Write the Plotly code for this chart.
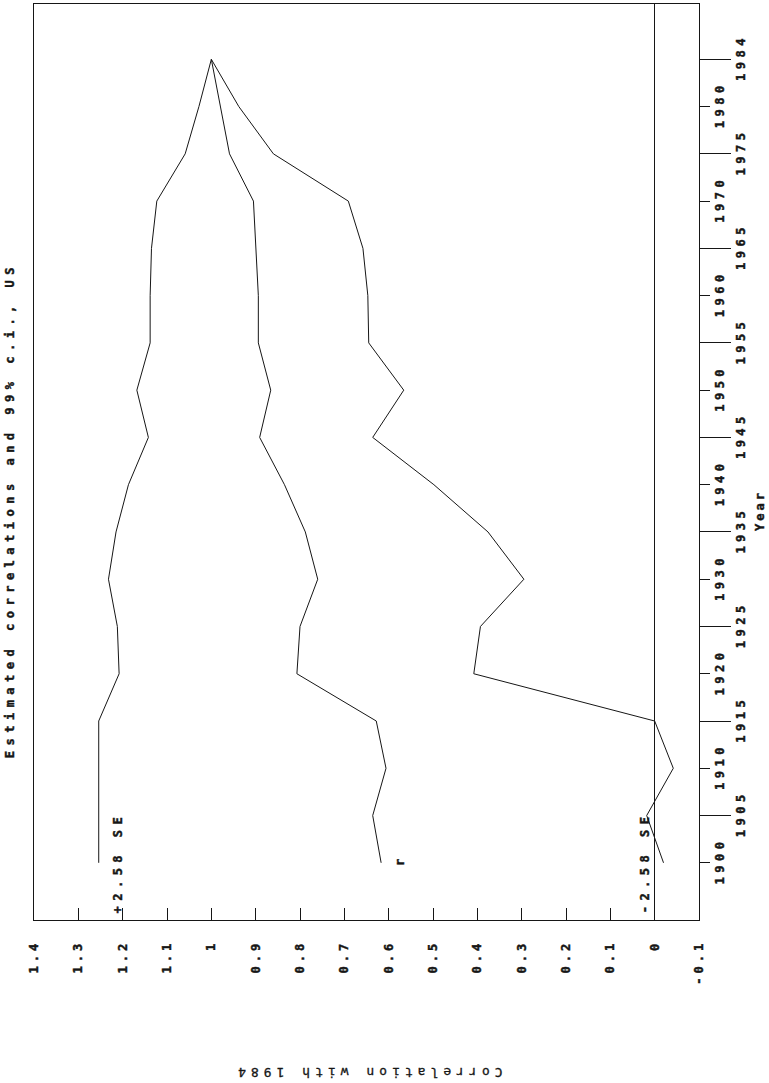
import plotly.graph_objects as go

# ---- data ----
years = [1900, 1905, 1910, 1915, 1920, 1925, 1930, 1935, 1940,
         1945, 1950, 1955, 1960, 1965, 1970, 1975, 1980, 1984]
upper = [1.254, 1.254, 1.254, 1.254, 1.208, 1.212, 1.232, 1.215, 1.187,
         1.142, 1.168, 1.138, 1.138, 1.135, 1.123, 1.059, 1.028, 1.000]
r_vals = [0.617, 0.636, 0.606, 0.628, 0.807, 0.800, 0.760, 0.788, 0.835,
          0.891, 0.866, 0.894, 0.894, 0.900, 0.905, 0.959, 0.979, 1.000]
lower = [-0.020, 0.018, -0.042, 0.000, 0.408, 0.393, 0.295, 0.376, 0.498,
         0.636, 0.566, 0.645, 0.647, 0.658, 0.691, 0.860, 0.938, 1.000]

corr_ticks = [1.4, 1.3, 1.2, 1.1, 1.0, 0.9, 0.8, 0.7, 0.6, 0.5, 0.4, 0.3, 0.2, 0.1, 0.0, -0.1]
corr_ticktext = ["1.4", "1.3", "1.2", "1.1", "1", "0.9", "0.8", "0.7", "0.6",
                 "0.5", "0.4", "0.3", "0.2", "0.1", "0", "-0.1"]

series_labels = ["+2.58 SE", "r", "-2.58 SE"]
title_text = "Estimated correlations and 99% c.i., US"
xlabel_text = "Correlation with 1984"
ylabel_text = "Year"

# year axis is evenly spaced by observation (1980 -> 1984 takes one step)
year_idx = list(range(len(years)))
short_idx = [i for i, y in zip(year_idx, years) if y % 10 == 0]
short_txt = [str(years[i]) for i in short_idx]
long_idx = [i for i, y in zip(year_idx, years) if y % 10 != 0]
long_txt = [str(years[i]) for i in long_idx]

INK = "#161616"
FONT = "DejaVu Sans Mono"

fig = go.Figure()
for vals in (upper, r_vals, lower):
    fig.add_trace(go.Scatter(x=vals, y=year_idx, mode="lines",
                             line=dict(color=INK, width=1),
                             showlegend=False, hoverinfo="skip"))
# invisible trace so the second (long-tick) year axis is drawn
fig.add_trace(go.Scatter(x=[r_vals[0]], y=[year_idx[0]], yaxis="y2", mode="markers",
                         marker=dict(opacity=0), showlegend=False, hoverinfo="skip"))

L, R, T, B = 34, 699, 4, 920
W, H = 769, 1083
pw, ph = R - L, B - T


def px(xp):
    return (xp - L) / pw


def py(yp):
    return (B - yp) / ph


yr = [-1.21, 18.17]

fig.update_layout(
    width=W, height=H,
    margin=dict(l=L, r=W - R, t=T, b=H - B),
    paper_bgcolor="white", plot_bgcolor="white",
    showlegend=False,
    font=dict(family=FONT, size=12, color=INK),
    xaxis=dict(range=[1.4, -0.1], tickmode="array", tickvals=corr_ticks,
               ticktext=corr_ticktext, ticks="inside", ticklen=12, tickwidth=1,
               tickcolor=INK, showline=True, linecolor=INK, linewidth=1, mirror=True,
               showgrid=False, zeroline=True, zerolinecolor=INK, zerolinewidth=1,
               tickangle=-90, ticklabelstandoff=14,
               tickfont=dict(family=FONT, size=12, weight="bold", color=INK)),
    yaxis=dict(range=yr, side="right", tickmode="array", tickvals=short_idx,
               ticktext=short_txt, ticks="outside", ticklen=10, tickwidth=1,
               tickcolor=INK, showline=True, linecolor=INK, linewidth=1, mirror=True,
               showgrid=False, zeroline=False, tickangle=-90,
               tickfont=dict(family=FONT, size=12, weight="bold", color=INK)),
    yaxis2=dict(range=yr, overlaying="y", side="right", tickmode="array",
                tickvals=long_idx, ticktext=long_txt, ticks="outside", ticklen=31,
                tickwidth=1, tickcolor=INK, showline=False, showgrid=False,
                zeroline=False, tickangle=-90,
                tickfont=dict(family=FONT, size=12, weight="bold", color=INK)),
)

ann = [
    dict(text=title_text, xref="paper", yref="paper", x=px(10), y=py(510),
         textangle=-90, showarrow=False, xanchor="center", yanchor="middle",
         font=dict(family=FONT, size=12, weight="bold", color=INK)),
    dict(text=ylabel_text, xref="paper", yref="paper", x=px(760), y=py(511),
         textangle=-90, showarrow=False, xanchor="center", yanchor="middle",
         font=dict(family=FONT, size=12, weight="bold", color=INK)),
    dict(text=xlabel_text, xref="paper", yref="paper", x=px(368), y=py(1073),
         textangle=180, showarrow=False, xanchor="center", yanchor="middle",
         font=dict(family=FONT, size=13, color=INK)),
]
for vals, lab, shift in zip((upper, r_vals, lower), series_labels, (19, 19, -19)):
    ann.append(dict(text=lab, xref="x", yref="y", x=vals[0], y=year_idx[0],
                    xshift=shift, textangle=-90, showarrow=False,
                    xanchor="center", yanchor="middle",
                    font=dict(family=FONT, size=12, weight="bold", color=INK)))
fig.update_layout(annotations=ann)

post = """
var gd = document.getElementById('{plot_id}');
document.body.style.margin = '0';
function spaceText(){
  function setSp(sel, v){ gd.querySelectorAll(sel).forEach(function(t){
      t.style.letterSpacing = v; t.style.stroke = '#161616'; t.style.strokeWidth = '0.45px'; }); }
  setSp('.xtick text', '4px');
  setSp('.ytick text', '4.5px');
  setSp('.y2tick text', '4.5px');
  gd.querySelectorAll('.annotation-text').forEach(function(t){
    var s = t.textContent;
    t.style.stroke = '#161616';
    if (s === 'Correlation with 1984') {
      t.style.letterSpacing = '5px'; t.style.strokeWidth = '0.3px'; return; }
    t.style.strokeWidth = '0.45px';
    if (s === 'Year') { t.style.letterSpacing = '3px'; }
    else if (s !== 'r') { t.style.letterSpacing = '5.5px'; }
  });
}
spaceText();
gd.on('plotly_afterplot', spaceText);
"""

fig.write_html("out.html", post_script=post, config={"displayModeBar": False})
